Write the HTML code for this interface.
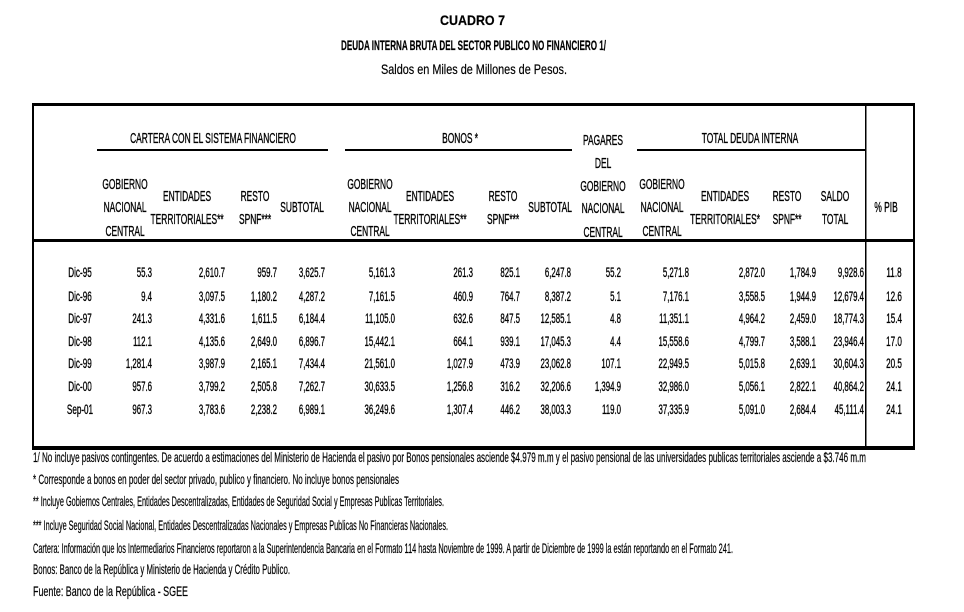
<!DOCTYPE html>
<html><head><meta charset="utf-8"><style>
body{margin:0;background:#fff;}
svg{display:block;font-family:"Liberation Sans",Arial,sans-serif;}
text{fill:#000;font-size:14px;stroke:#000;stroke-width:0.35px;}
.r{text-anchor:end;transform-box:fill-box;transform-origin:right center;transform:scaleX(.56);}
.c{text-anchor:middle;transform-box:fill-box;transform-origin:center;transform:scaleX(.58);}
.h text{font-size:14.5px;}
.f{stroke-width:0.2px;}
</style></head><body>
<svg width="964" height="612" viewBox="0 0 964 612">
<text x="440" y="25" font-weight="bold" font-size="13" textLength="65" lengthAdjust="spacingAndGlyphs" class="f">CUADRO 7</text>
<text x="341" y="50" font-weight="bold" font-size="13" textLength="265" lengthAdjust="spacingAndGlyphs" class="f">DEUDA INTERNA BRUTA DEL SECTOR PUBLICO NO FINANCIERO 1/</text>
<text x="381" y="74" font-size="13" textLength="186" lengthAdjust="spacingAndGlyphs" class="f">Saldos en Miles de Millones de Pesos.</text>
<rect x="32" y="103" width="883" height="3"/>
<rect x="32" y="103" width="2" height="347"/>
<rect x="913" y="103" width="2" height="347"/>
<rect x="865" y="103" width="1.5" height="347"/>
<rect x="32" y="239" width="883" height="3"/>
<rect x="32" y="446" width="883" height="4"/>
<rect x="97" y="149" width="231" height="2"/>
<rect x="345" y="149" width="227" height="2"/>
<rect x="637" y="149" width="229" height="2"/>
<g class="h">
<text class="c" x="213" y="143">CARTERA CON EL SISTEMA FINANCIERO</text>
<text class="c" x="460" y="143">BONOS  *</text>
<text class="c" x="750" y="143">TOTAL DEUDA INTERNA</text>
<text class="c" x="125" y="189">GOBIERNO</text><text class="c" x="125" y="212">NACIONAL</text><text class="c" x="125" y="236">CENTRAL</text>
<text class="c" x="187" y="201">ENTIDADES</text><text class="c" x="187" y="224">TERRITORIALES**</text>
<text class="c" x="255" y="201">RESTO</text><text class="c" x="255" y="224">SPNF***</text>
<text class="c" x="302" y="212">SUBTOTAL</text>
<text class="c" x="370" y="189">GOBIERNO</text><text class="c" x="370" y="212">NACIONAL</text><text class="c" x="370" y="236">CENTRAL</text>
<text class="c" x="430" y="201">ENTIDADES</text><text class="c" x="430" y="224">TERRITORIALES**</text>
<text class="c" x="503" y="201">RESTO</text><text class="c" x="503" y="224">SPNF***</text>
<text class="c" x="550" y="212">SUBTOTAL</text>
<text class="c" x="603" y="145">PAGARES</text><text class="c" x="603" y="168">DEL</text><text class="c" x="603" y="191">GOBIERNO</text><text class="c" x="603" y="213">NACIONAL</text><text class="c" x="603" y="237">CENTRAL</text>
<text class="c" x="662" y="189">GOBIERNO</text><text class="c" x="662" y="212">NACIONAL</text><text class="c" x="662" y="236">CENTRAL</text>
<text class="c" x="725" y="201">ENTIDADES</text><text class="c" x="725" y="224">TERRITORIALES*</text>
<text class="c" x="787" y="201">RESTO</text><text class="c" x="787" y="224">SPNF**</text>
<text class="c" x="835" y="201">SALDO</text><text class="c" x="835" y="224">TOTAL</text>
<text class="c" x="886" y="212">% PIB</text>
</g>
<g>
<text class="c" x="80" y="277">Dic-95</text><text class="r" x="152" y="277">55.3</text><text class="r" x="225" y="277">2,610.7</text><text class="r" x="277" y="277">959.7</text><text class="r" x="325" y="277">3,625.7</text><text class="r" x="395" y="277">5,161.3</text><text class="r" x="473" y="277">261.3</text><text class="r" x="520" y="277">825.1</text><text class="r" x="571" y="277">6,247.8</text><text class="r" x="621" y="277">55.2</text><text class="r" x="689" y="277">5,271.8</text><text class="r" x="765" y="277">2,872.0</text><text class="r" x="816" y="277">1,784.9</text><text class="r" x="864" y="277">9,928.6</text><text class="c" x="894" y="277">11.8</text>
<text class="c" x="80" y="301">Dic-96</text><text class="r" x="152" y="301">9.4</text><text class="r" x="225" y="301">3,097.5</text><text class="r" x="277" y="301">1,180.2</text><text class="r" x="325" y="301">4,287.2</text><text class="r" x="395" y="301">7,161.5</text><text class="r" x="473" y="301">460.9</text><text class="r" x="520" y="301">764.7</text><text class="r" x="571" y="301">8,387.2</text><text class="r" x="621" y="301">5.1</text><text class="r" x="689" y="301">7,176.1</text><text class="r" x="765" y="301">3,558.5</text><text class="r" x="816" y="301">1,944.9</text><text class="r" x="864" y="301">12,679.4</text><text class="c" x="894" y="301">12.6</text>
<text class="c" x="80" y="323">Dic-97</text><text class="r" x="152" y="323">241.3</text><text class="r" x="225" y="323">4,331.6</text><text class="r" x="277" y="323">1,611.5</text><text class="r" x="325" y="323">6,184.4</text><text class="r" x="395" y="323">11,105.0</text><text class="r" x="473" y="323">632.6</text><text class="r" x="520" y="323">847.5</text><text class="r" x="571" y="323">12,585.1</text><text class="r" x="621" y="323">4.8</text><text class="r" x="689" y="323">11,351.1</text><text class="r" x="765" y="323">4,964.2</text><text class="r" x="816" y="323">2,459.0</text><text class="r" x="864" y="323">18,774.3</text><text class="c" x="894" y="323">15.4</text>
<text class="c" x="80" y="346">Dic-98</text><text class="r" x="152" y="346">112.1</text><text class="r" x="225" y="346">4,135.6</text><text class="r" x="277" y="346">2,649.0</text><text class="r" x="325" y="346">6,896.7</text><text class="r" x="395" y="346">15,442.1</text><text class="r" x="473" y="346">664.1</text><text class="r" x="520" y="346">939.1</text><text class="r" x="571" y="346">17,045.3</text><text class="r" x="621" y="346">4.4</text><text class="r" x="689" y="346">15,558.6</text><text class="r" x="765" y="346">4,799.7</text><text class="r" x="816" y="346">3,588.1</text><text class="r" x="864" y="346">23,946.4</text><text class="c" x="894" y="346">17.0</text>
<text class="c" x="80" y="368">Dic-99</text><text class="r" x="152" y="368">1,281.4</text><text class="r" x="225" y="368">3,987.9</text><text class="r" x="277" y="368">2,165.1</text><text class="r" x="325" y="368">7,434.4</text><text class="r" x="395" y="368">21,561.0</text><text class="r" x="473" y="368">1,027.9</text><text class="r" x="520" y="368">473.9</text><text class="r" x="571" y="368">23,062.8</text><text class="r" x="621" y="368">107.1</text><text class="r" x="689" y="368">22,949.5</text><text class="r" x="765" y="368">5,015.8</text><text class="r" x="816" y="368">2,639.1</text><text class="r" x="864" y="368">30,604.3</text><text class="c" x="894" y="368">20.5</text>
<text class="c" x="80" y="391">Dic-00</text><text class="r" x="152" y="391">957.6</text><text class="r" x="225" y="391">3,799.2</text><text class="r" x="277" y="391">2,505.8</text><text class="r" x="325" y="391">7,262.7</text><text class="r" x="395" y="391">30,633.5</text><text class="r" x="473" y="391">1,256.8</text><text class="r" x="520" y="391">316.2</text><text class="r" x="571" y="391">32,206.6</text><text class="r" x="621" y="391">1,394.9</text><text class="r" x="689" y="391">32,986.0</text><text class="r" x="765" y="391">5,056.1</text><text class="r" x="816" y="391">2,822.1</text><text class="r" x="864" y="391">40,864.2</text><text class="c" x="894" y="391">24.1</text>
<text class="c" x="80" y="414">Sep-01</text><text class="r" x="152" y="414">967.3</text><text class="r" x="225" y="414">3,783.6</text><text class="r" x="277" y="414">2,238.2</text><text class="r" x="325" y="414">6,989.1</text><text class="r" x="395" y="414">36,249.6</text><text class="r" x="473" y="414">1,307.4</text><text class="r" x="520" y="414">446.2</text><text class="r" x="571" y="414">38,003.3</text><text class="r" x="621" y="414">119.0</text><text class="r" x="689" y="414">37,335.9</text><text class="r" x="765" y="414">5,091.0</text><text class="r" x="816" y="414">2,684.4</text><text class="r" x="864" y="414">45,111.4</text><text class="c" x="894" y="414">24.1</text>
</g>
<text x="33" y="462" font-size="13" textLength="833" lengthAdjust="spacingAndGlyphs" class="f">1/ No incluye pasivos contingentes. De acuerdo a estimaciones del Ministerio de Hacienda el pasivo por Bonos pensionales asciende $4.979 m.m y el pasivo pensional de las universidades publicas territoriales asciende a $3.746 m.m</text>
<text x="33" y="484" font-size="13" textLength="366" lengthAdjust="spacingAndGlyphs" class="f">* Corresponde a bonos en poder del sector privado, publico y financiero. No incluye bonos pensionales</text>
<text x="33" y="506" font-size="11" textLength="411" lengthAdjust="spacingAndGlyphs" class="f">** Incluye Gobiernos Centrales, Entidades Descentralizadas, Entidades de Seguridad Social y Empresas Publicas Territoriales.</text>
<text x="33" y="530" font-size="11" textLength="415" lengthAdjust="spacingAndGlyphs" class="f">*** Incluye Seguridad Social Nacional, Entidades Descentralizadas Nacionales y Empresas Publicas No Financieras Nacionales.</text>
<text x="33" y="553" font-size="11" textLength="700" lengthAdjust="spacingAndGlyphs" class="f">Cartera: Información que los Intermediarios Financieros reportaron a la Superintendencia Bancaria en el  Formato 114 hasta Noviembre de 1999. A partir de Diciembre de 1999 la están reportando en el Formato  241.</text>
<text x="33" y="574" font-size="11" textLength="257" lengthAdjust="spacingAndGlyphs" class="f">Bonos: Banco de la República y Ministerio de Hacienda y Crédito Publico.</text>
<text x="33" y="596" font-size="14" textLength="155" lengthAdjust="spacingAndGlyphs" class="f">Fuente: Banco de la República - SGEE</text>
</svg>
</body></html>
